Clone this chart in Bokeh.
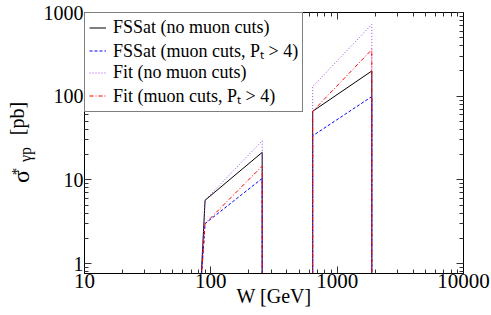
import math
from bokeh.plotting import figure
from bokeh.layouts import row
from bokeh.models import LogAxis, FixedTicker, PrintfTickFormatter, Label
from bokeh.embed import file_html
from bokeh.resources import INLINE

# ---- data ----
W = [83, 90, 255, 255, 640, 640, 1880, 1880]
fssat_nocut = [0.5, 5.7, 21.3, 0.5, 0.5, 66, 200, 0.5]
fssat_cut = [0.5, 3.0, 10.4, 0.5, 0.5, 33.6, 99, 0.5]
fit_nocut = [0.5, 5.7, 29.3, 0.5, 0.5, 130, 722, 0.5]
fit_cut = [0.5, 3.0, 14.6, 0.5, 0.5, 66, 360, 0.5]

x_major = [10, 100, 1000, 10000]
x_minor = [20, 30, 40, 50, 60, 70, 80, 90, 200, 300, 400, 500, 600, 700, 800, 900,
           2000, 3000, 4000, 5000, 6000, 7000, 8000, 9000]
y_major = [1, 10, 100, 1000]
y_minor = [0.8, 0.9, 2, 3, 4, 5, 6, 7, 8, 9, 20, 30, 40, 50, 60, 70, 80, 90,
           200, 300, 400, 500, 600, 700, 800, 900]

series = [
    ("FSSat (no muon cuts)", fssat_nocut, "black", "solid"),
    ("FSSat (muon cuts, P\u209c > 4)", fssat_cut, "#0000ff", "3 2"),
    ("Fit (no muon cuts)", fit_nocut, "#a040e8", "1 2"),
    ("Fit (muon cuts, P\u209c > 4)", fit_cut, "#ff0000", "4 2 1 2"),
]

FONT = "Liberation Serif"
TOP, BOTTOM = 12, 42

# ---- main plot ----
p = figure(width=451, height=315, x_axis_type="log", y_axis_type="log",
           x_range=(10, 10000), y_range=(0.76, 1000),
           output_backend="svg", toolbar_location=None,
           min_border_left=43, min_border_right=28, min_border_top=TOP, min_border_bottom=BOTTOM)
p.xgrid.visible = False
p.ygrid.visible = False
p.outline_line_color = "black"

for name, ys, col, dash in series:
    p.line(W, ys, line_color=col, line_width=1, line_dash=dash, legend_label=name)

# mirrored axes (ticks only)
p.add_layout(LogAxis(), "above")
p.add_layout(LogAxis(), "right")

for ax in p.xaxis:
    ax.ticker = FixedTicker(ticks=x_major, minor_ticks=x_minor)
for ax in p.yaxis:
    ax.ticker = FixedTicker(ticks=y_major, minor_ticks=y_minor)

for ax in p.axis:
    ax.formatter = PrintfTickFormatter(format="%d")
    ax.major_tick_in = 7
    ax.major_tick_out = 0
    ax.minor_tick_in = 4
    ax.minor_tick_out = 0
    ax.axis_line_color = "black"
    ax.major_tick_line_color = "#333333"
    ax.minor_tick_line_color = "#333333"
    ax.major_label_text_font = FONT
    ax.major_label_text_font_size = "21px"
    ax.major_label_text_color = "black"
    ax.major_label_standoff = 0

p.above[0].major_label_overrides = {v: "" for v in x_major}
p.right[0].major_label_overrides = {v: "" for v in y_major}
p.yaxis[0].major_label_standoff = 1
p.yaxis[0].major_label_text_font_size = "20px"

xa = p.below[0]
xa.axis_label = "W [GeV]"
xa.axis_label_text_font = FONT
xa.axis_label_text_font_size = "20px"
xa.axis_label_text_font_style = "normal"
xa.axis_label_text_color = "black"
xa.axis_label_standoff = -6

lg = p.legend[0]
lg.location = "top_left"
lg.margin = 0
lg.padding = 4
lg.spacing = 0
lg.glyph_width = 17
lg.glyph_height = 21
lg.label_height = 21
lg.label_standoff = 7
lg.label_text_font = FONT
lg.label_text_font_size = "18px"
lg.label_text_color = "black"
lg.border_line_color = "black"
lg.border_line_width = 1
lg.background_fill_alpha = 1

# ---- narrow strip holding the y-axis title sigma*_{gamma p} [pb] ----
t = figure(width=40, height=315, output_backend="svg", toolbar_location=None,
           x_axis_location=None, y_axis_location=None,
           min_border_left=0, min_border_right=0,
           min_border_top=TOP, min_border_bottom=BOTTOM)
t.outline_line_color = None
t.grid.visible = False

rot = math.pi / 2
for txt, x, y, size in [("\u03c3", 20.5, 97, "24px"), ("*", 16, 102, "15px"),
                        ("\u03b3p", 25, 119, "16px"), ("[pb]", 16, 155, "20px")]:
    t.add_layout(Label(x=x, y=y, x_units="screen", y_units="screen", text=txt, angle=rot,
                       text_align="center", text_baseline="middle",
                       text_font=FONT, text_font_size=size, text_color="black"))

layout = row(t, p)
open("out.html", "w").write(file_html(layout, INLINE))
